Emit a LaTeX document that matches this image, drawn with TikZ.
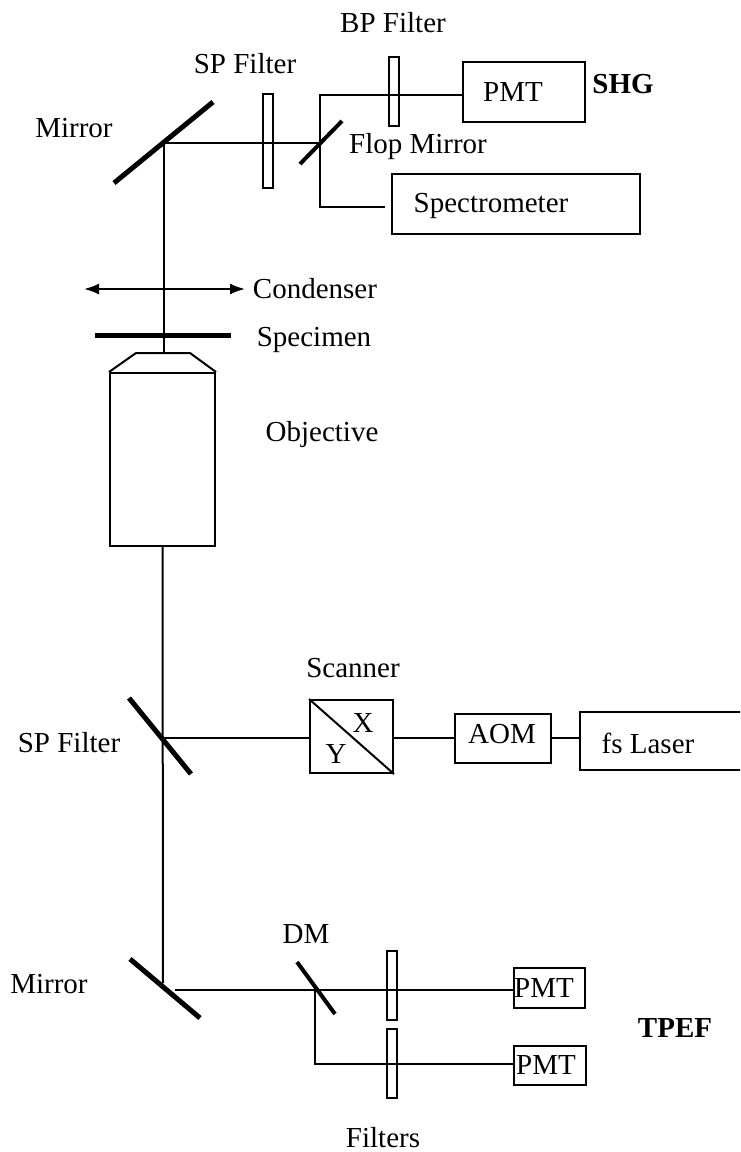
\documentclass[tikz,border=0pt]{standalone}
\usepackage{fontspec}
\usetikzlibrary{arrows.meta}
\setmainfont{Liberation Serif}
\tikzset{
  beam/.style={line width=2pt},
  mirror/.style={line width=5pt},
  box/.style={draw, line width=2pt, inner sep=0pt},
  filterbar/.style={draw, line width=2pt, inner sep=0pt, minimum width=10pt},
  tag/.style={font=\fontsize{29}{29}\selectfont, inner sep=0pt},
  boldtag/.style={font=\fontsize{29}{29}\selectfont\bfseries, inner sep=0pt},
}
\begin{document}
\begin{tikzpicture}[x=1pt,y=-1pt,>={Latex[length=15pt,width=11pt]}]
\useasboundingbox (0,0) rectangle (740,1152);
\clip (0,0) rectangle (740,1152);

% Boxes
\node[box, minimum width=122, minimum height=60] (pmtShg) at (524,92) {};
\node[box, minimum width=248, minimum height=60] (spectro) at (516,204) {};
\node[box, minimum width=105, minimum height=173] (objBody) at (162.5,459.5) {};
\node[box, minimum width=83, minimum height=73] (scanner) at (351.5,736.5) {};
\node[box, minimum width=96, minimum height=49] (aom) at (503,738.5) {};
\node[box, minimum width=190, minimum height=58] (laser) at (675,741) {};
\node[box, minimum width=71, minimum height=40] (pmtA) at (549.5,988) {};
\node[box, minimum width=72, minimum height=39] (pmtB) at (550,1065.5) {};

% Filters
\node[filterbar, minimum height=69] (bpFilter) at (393.5,91.5) {};
\node[filterbar, minimum height=94] (spFilter) at (268,141) {};
\node[filterbar, minimum height=69] (filterA) at (392,985.5) {};
\node[filterbar, minimum height=69] (filterB) at (392,1063.5) {};

% Points on the beam path
\coordinate (hitTop) at (164,143);
\coordinate (hitFlop) at (320,143);
\coordinate (cornerPmt) at (320,95);
\coordinate (cornerSpec) at (320,207);
\coordinate (specEnd) at (385,207);
\coordinate (objTop) at (164,353);
\coordinate (hitSp) at (163,738);
\coordinate (mainEnd) at (163,983);
\coordinate (hitLow) at (175,990);
\coordinate (hitDm) at (315,990);
\coordinate (cornerLow) at (315,1064);
\coordinate (condLeft) at (84,289);
\coordinate (condRight) at (245,289);

% Beam path
\draw[beam] (objTop) -- (hitTop) -- (hitFlop);
\draw[beam] (pmtShg.west |- cornerPmt) -- (cornerPmt) -- (cornerSpec) -- (specEnd);
\draw[beam] (objBody.south) -- (mainEnd);
\draw[beam] (hitSp) -- (scanner.west |- hitSp);
\draw[beam] (scanner.east |- hitSp) -- (aom.west |- hitSp);
\draw[beam] (aom.east |- hitSp) -- (laser.west |- hitSp);
\draw[beam] (hitLow) -- (pmtA.west |- hitLow);
\draw[beam] (hitDm) -- (cornerLow) -- (pmtB.west |- cornerLow);
\draw[beam,<->] (condLeft) -- (condRight);

% Mirrors
\draw[mirror] (114,183) -- (213,102);
\draw[line width=4pt] (300,164) -- (342,121);
\draw[mirror] (95,335) -- (231,335);
\draw[mirror] (129,698) -- (191,774);
\draw[mirror] (130,959) -- (200,1018);
\draw[line width=4pt] (297,962) -- (335,1014);

% Objective head and scanner diagonal
\draw[beam] (objBody.north west) -- (136,353) -- (190,353) -- (objBody.north east);
\draw[beam] (scanner.north west) -- (scanner.south east);

% Labels
\draw (393,23) node[tag] {BP Filter};
\draw (245,64) node[tag] {SP Filter};
\draw (74,128) node[tag] {Mirror};
\draw (418,147) node[tag] {Flop Mirror};
\draw (513,92) node[tag] {PMT};
\draw (623,84) node[boldtag] {SHG};
\draw (491,206) node[tag] {Spectrometer};
\draw (315,289) node[tag] {Condenser};
\draw (314,340) node[tag] {Specimen};
\draw (322,435) node[tag] {Objective};
\draw (353,668) node[tag] {Scanner};
\draw (69,743) node[tag] {SP Filter};
\draw (363,723) node[tag] {X};
\draw (336,754) node[tag] {Y};
\draw (502,734) node[tag] {AOM};
\draw (648,743) node[tag] {fs Laser};
\draw (306,934) node[tag] {DM};
\draw (49,984) node[tag] {Mirror};
\draw (544,988) node[tag] {PMT};
\draw (546,1065) node[tag] {PMT};
\draw (675,1028) node[boldtag] {TPEF};
\draw (383,1138) node[tag] {Filters};
\end{tikzpicture}
\end{document}
